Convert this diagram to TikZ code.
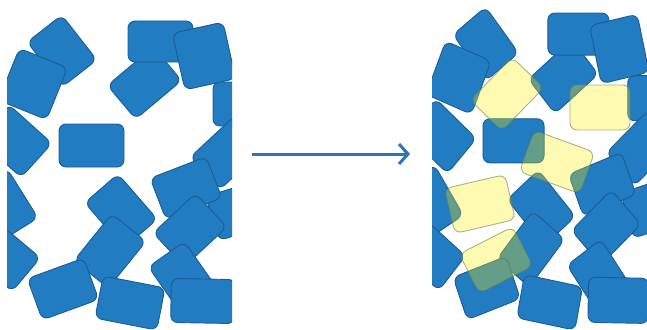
\documentclass[tikz,border=0pt]{standalone}
\usetikzlibrary{arrows.meta}
\definecolor{tileblue}{RGB}{34,124,193}
\definecolor{tileedge}{RGB}{26,92,150}
\definecolor{markyellow}{RGB}{255,238,0}
\definecolor{markedge}{RGB}{110,130,80}
\definecolor{arrowblue}{RGB}{46,117,182}

% one pile of tiles: x/y/rotation/width/height, back to front
\newcommand{\tilepile}{%
  \foreach \cx/\cy/\rot/\w/\h in {242/104/0/58/44, 62/51/-52/57/44, 33/84/-22/52/56,
      144.5/83/40/60/44, 160.5/41.5/0/65/41, 204/56/12.5/52/58, 15/141/-42/58/46,
      4/205/-58/58/44, 4/256/-40/58/44, 91.5/145.5/0/65/43, 227/153/43/60/44,
      240/210/17/58/46, 186/188/21/60/44, 190/230/43/58/46, 121/211/-49/60/44,
      110/251/51/60/44, 63/289/20/60/44, 183/278/-55/58/44, 130/303/-11/63/43,
      203/301/-1/64/44}
    \draw[tile, shift={(\cx,\cy)}, rotate=\rot] (-\w/2,-\h/2) rectangle (\w/2,\h/2);
}

\begin{document}
\begin{tikzpicture}[x=1pt, y=-1pt,
    tile/.style={fill=tileblue, draw=tileedge, line width=0.9pt, rounded corners=7pt},
    marked/.style={fill=markyellow, fill opacity=0.3, draw=markedge, draw opacity=0.6, line width=0.9pt, rounded corners=7pt},
    flow/.style={draw=arrowblue, line width=3pt, -{Straight Barb[length=9pt, width=20pt]}}
]
    \useasboundingbox (0,0) rectangle (647,329);

    % before
    \begin{scope}
        \clip (7,0) rectangle (232,329);
        \tilepile
    \end{scope}

    % after
    \begin{scope}
        \clip (432,0) rectangle (647,329);
        \begin{scope}[shift={(427.5,-8.5)}, xscale=0.94, yscale=1.026]
            \tilepile
        \end{scope}
        \foreach \cx/\cy/\rot/\w/\h in {507/94/46/60/44, 600/107.5/0/60/45, 557/162/-20/64/44,
            480/204/13/62/46, 496/260/27/60/44}
            \draw[marked, shift={(\cx,\cy)}, rotate=\rot] (-\w/2,-\h/2) rectangle (\w/2,\h/2);
    \end{scope}

    \coordinate (arrowtail) at (252,154);
    \coordinate (arrowtip) at (410,154);
    \draw[flow] (arrowtail) -- (arrowtip);
\end{tikzpicture}
\end{document}
